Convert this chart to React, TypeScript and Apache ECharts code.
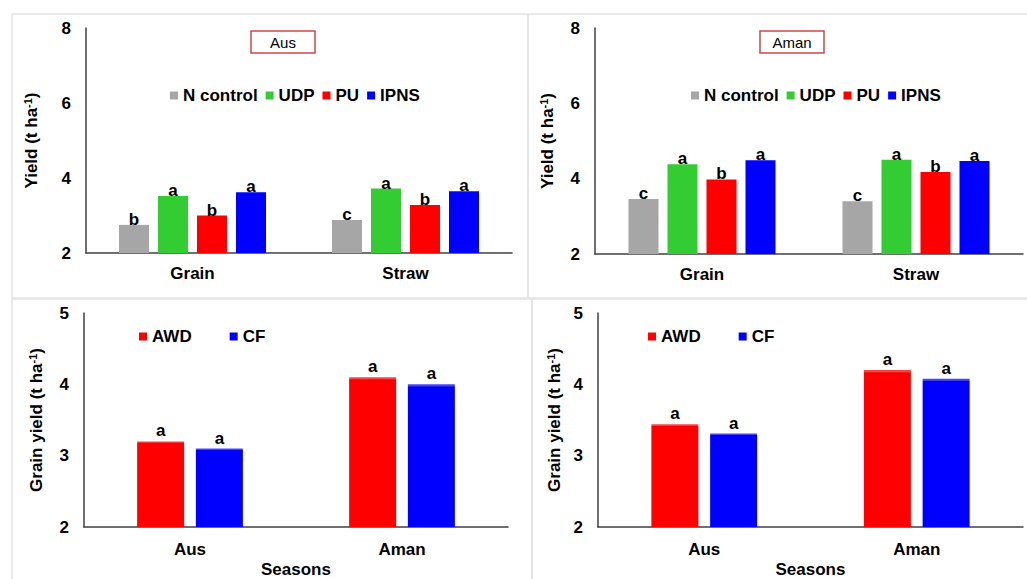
import React, { useEffect, useRef } from "react";
import * as echarts from "echarts";

const topCategories = ["Grain", "Straw"];
const bottomCategories = ["Aus", "Aman"];
const treatmentNames = ["N control", "UDP", "PU", "IPNS"];
const treatmentColors = ["#a6a6a6", "#33cc33", "#ff0000", "#0000ff"];

// Aus season (top-left)
const ausValues = [
  [2.75, 2.88],
  [3.52, 3.72],
  [3.0, 3.28],
  [3.62, 3.65],
];
const ausLetters = [
  ["b", "c"],
  ["a", "a"],
  ["b", "b"],
  ["a", "a"],
];

// Aman season (top-right)
const amanValues = [
  [3.46, 3.4],
  [4.38, 4.5],
  [3.98, 4.18],
  [4.49, 4.47],
];
const amanLetters = [
  ["c", "c"],
  ["a", "a"],
  ["b", "b"],
  ["a", "a"],
];

const waterNames = ["AWD", "CF"];
// bottom-left
const waterLeftValues = [
  [3.2, 4.1],
  [3.1, 4.0],
];
// bottom-right
const waterRightValues = [
  [3.44, 4.2],
  [3.31, 4.08],
];
const waterLetters = [
  ["a", "a"],
  ["a", "a"],
];

const FONT = "'Liberation Sans', Arial, sans-serif";

export default function App() {
  const ref = useRef<HTMLDivElement>(null);

  useEffect(() => {
    if (!ref.current) return;
    const chart = echarts.init(ref.current, null, { renderer: "svg" });

    const grids = [
      { left: 86, top: 28, width: 426, height: 225 },
      { left: 595, top: 28, width: 428, height: 226 },
      { left: 84, top: 313, width: 424, height: 220 },
      { left: 598, top: 313, width: 425, height: 218 },
    ];
    const yNameGaps = [45, 38, 38, 34];

    const axisLine = { show: true, lineStyle: { color: "#404040", width: 1.5 } };
    const tickLabel = { color: "#000", fontSize: 17, fontWeight: "bold", fontFamily: FONT };

    const xAxes = grids.map((_, i) => ({
      type: "category",
      gridIndex: i,
      data: i < 2 ? topCategories : bottomCategories,
      axisLine,
      axisTick: { show: false },
      axisLabel: { ...tickLabel, margin: i < 2 ? 12 : 14 },
      name: i < 2 ? "" : "Seasons",
      nameLocation: "middle",
      nameGap: 34,
      nameTextStyle: { color: "#000", fontSize: 17, fontWeight: "bold", fontFamily: FONT },
    }));

    const yAxes = grids.map((_, i) => ({
      type: "value",
      gridIndex: i,
      min: 2,
      max: i < 2 ? 8 : 5,
      interval: i < 2 ? 2 : 1,
      axisLine,
      axisTick: { show: false },
      splitLine: { show: false },
      axisLabel: { ...tickLabel, margin: 15 },
      name: i < 2 ? "Yield (t ha{sup|-1})" : "Grain yield (t ha{sup|-1})",
      nameLocation: "middle",
      nameRotate: 90,
      nameGap: yNameGaps[i],
      nameTextStyle: {
        color: "#000",
        fontSize: 17,
        fontWeight: "bold",
        fontFamily: FONT,
        rich: {
          sup: { fontSize: 11, fontWeight: "bold", fontFamily: FONT, color: "#000", padding: [0, 0, 8, 0] },
        },
      },
    }));

    const labelStyle = (letters: string[], dist: number) => ({
      show: true,
      position: "top",
      distance: dist,
      color: "#000",
      fontSize: 17,
      fontWeight: "bold",
      fontFamily: FONT,
      formatter: (p: any) => letters[p.dataIndex],
    });

    const bevel = (base: string, light: string, dark: string) =>
      new echarts.graphic.LinearGradient(0, 0, 0, 1, [
        { offset: 0, color: light },
        { offset: 0.012, color: light },
        { offset: 0.018, color: dark },
        { offset: 0.026, color: base },
        { offset: 1, color: base },
      ]);
    const waterColors = [
      bevel("#ff0000", "#ff4040", "#e80000"),
      bevel("#0000ff", "#4545ff", "#0000e0"),
    ];
    const waterLegendColors = ["#ff0000", "#0000ff"];

    const series: any[] = [];
    [ausValues, amanValues].forEach((vals, g) => {
      const letters = g === 0 ? ausLetters : amanLetters;
      vals.forEach((v, k) => {
        series.push({
          type: "bar",
          name: treatmentNames[k],
          xAxisIndex: g,
          yAxisIndex: g,
          data: v,
          barWidth: 30,
          barGap: "30%",
          itemStyle: { color: treatmentColors[k] },
          label: labelStyle(letters[k], -3),
        });
      });
    });
    [waterLeftValues, waterRightValues].forEach((vals, g) => {
      vals.forEach((v, k) => {
        series.push({
          type: "bar",
          name: waterNames[k],
          xAxisIndex: g + 2,
          yAxisIndex: g + 2,
          data: v,
          barWidth: 47,
          barGap: "25%",
          color: waterLegendColors[k],
          itemStyle: { color: waterColors[k] },
          label: labelStyle(waterLetters[k], 2),
        });
      });
    });

    const legendText = { color: "#000", fontSize: 17, fontWeight: "bold", fontFamily: FONT };
    const topLegend = (left: number) => ({
      left,
      top: 87,
      padding: 0,
      orient: "horizontal",
      icon: "rect",
      itemWidth: 8,
      itemHeight: 8,
      itemGap: 8,
      selectedMode: false,
      textStyle: legendText,
      data: treatmentNames.map((n, k) => ({ name: n, itemStyle: { color: treatmentColors[k] } })),
    });
    const bottomLegend = (left: number) => ({
      left,
      top: 328,
      padding: 0,
      orient: "horizontal",
      icon: "rect",
      itemWidth: 8,
      itemHeight: 8,
      itemGap: 38,
      selectedMode: false,
      textStyle: legendText,
      data: waterNames.map((n, k) => ({ name: n, itemStyle: { color: waterLegendColors[k] } })),
    });

    const panelBorder = (x: number, y: number, w: number, h: number) => ({
      type: "rect",
      shape: { x, y, width: w, height: h },
      style: { fill: "none", stroke: "#e3e3e3", lineWidth: 1.5 },
      silent: true,
      z: -1,
    });
    const seasonBox = (x: number, text: string) => ({
      type: "group",
      children: [
        {
          type: "rect",
          shape: { x, y: 31, width: 64, height: 22 },
          style: { fill: "#fff", stroke: "#d0474a", lineWidth: 1.5 },
        },
        {
          type: "text",
          x: x + 32,
          y: 42,
          style: {
            text,
            fill: "#000",
            fontSize: 15,
            fontFamily: FONT,
            align: "center",
            verticalAlign: "middle",
          },
        },
      ],
    });

    chart.setOption({
      animation: false,
      backgroundColor: "#fff",
      grid: grids,
      xAxis: xAxes,
      yAxis: yAxes,
      legend: [topLegend(170), topLegend(691), bottomLegend(139), bottomLegend(648)],
      series,
      graphic: [
        panelBorder(12, 14, 516, 284),
        panelBorder(528, 14, 510, 284),
        panelBorder(12, 299, 520, 290),
        panelBorder(532, 299, 510, 290),
        seasonBox(251, "Aus"),
        seasonBox(760, "Aman"),
      ],
    });

    return () => chart.dispose();
  }, []);

  return (
    <div
      ref={ref}
      style={{ position: "fixed", left: 0, top: 0, width: 1027, height: 579, background: "#fff" }}
    />
  );
}
